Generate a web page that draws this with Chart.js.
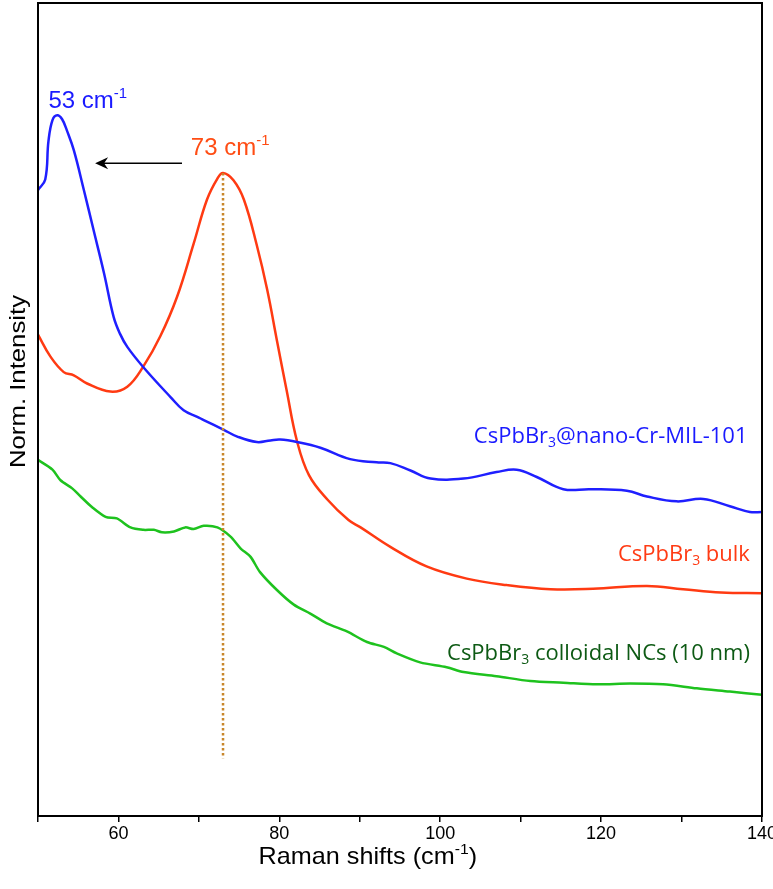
<!DOCTYPE html>
<html>
<head>
<meta charset="utf-8">
<script src="https://cdn.jsdelivr.net/npm/chart.js@4.4.1/dist/chart.umd.min.js"></script>
<style>
  html, body { margin: 0; padding: 0; background: #fff; }
  #wrap { width: 773px; height: 889px; }
</style>
</head>
<body>
<div id="wrap"><canvas id="raman" width="773" height="889"></canvas></div>
<script>
// Raman shift (cm-1) / normalised intensity (arbitrary units, 0-100)
const milShift = [50.0, 50.9, 51.3, 51.8, 52.4, 53.0, 53.6, 54.45, 55.7, 56.9, 58.2, 59.4, 60.2, 61.1, 63.1, 66.5, 68.1, 69.8, 70.6, 73.1, 74.7, 77.2, 78.9, 80.1, 82.2, 85.1, 88.8, 92.1, 93.8, 96.3, 98.8, 102.9, 107.0, 109.5, 112.0, 115.3, 118.6, 123.2, 125.7, 129.4, 132.7, 136.0, 138.5, 140.0];
const milIntensity = [77.0, 78.3, 83.0, 85.6, 86.2, 85.7, 84.3, 81.9, 77.0, 72.1, 66.8, 61.4, 59.3, 57.7, 55.2, 51.5, 49.9, 49.1, 48.7, 47.5, 46.7, 46.0, 46.2, 46.3, 46.0, 45.3, 43.9, 43.5, 43.4, 42.5, 41.5, 41.5, 42.3, 42.6, 41.7, 40.2, 40.2, 40.0, 39.3, 38.7, 39.0, 38.1, 37.4, 37.4];

const bulkShift = [50.0, 51.55, 53.2, 54.45, 56.1, 59.0, 61.1, 63.1, 65.2, 67.3, 69.35, 71.0, 72.3, 73.0, 74.3, 75.6, 77.2, 78.5, 79.7, 80.9, 82.2, 83.7, 86.0, 88.6, 90.1, 93.8, 98.3, 103.3, 108.3, 113.7, 119.0, 125.7, 130.2, 134.9, 140.0];
const bulkIntensity = [59.2, 56.5, 54.6, 54.2, 53.2, 52.2, 52.8, 55.3, 59.0, 63.9, 70.4, 75.8, 78.4, 79.1, 78.2, 75.8, 70.2, 64.7, 58.5, 52.4, 46.1, 41.9, 38.9, 36.4, 35.5, 33.1, 30.7, 29.2, 28.4, 27.9, 27.95, 28.3, 27.9, 27.5, 27.4];

const ncShift = [50.0, 51.8, 52.8, 54.25, 55.3, 56.7, 58.4, 59.8, 61.5, 63.1, 64.4, 65.4, 66.9, 68.3, 69.35, 70.6, 72.3, 73.9, 75.2, 76.4, 77.6, 79.7, 81.8, 83.85, 85.9, 88.4, 90.9, 93.0, 94.6, 97.5, 100.8, 102.9, 107.0, 111.2, 115.3, 119.5, 123.6, 127.7, 131.9, 136.0, 140.0];
const ncIntensity = [43.8, 42.6, 41.3, 40.3, 39.3, 38.0, 36.8, 36.6, 35.5, 35.2, 35.2, 34.9, 35.0, 35.5, 35.3, 35.7, 35.5, 34.4, 32.9, 31.9, 30.0, 27.8, 26.0, 24.9, 23.7, 22.7, 21.4, 20.8, 20.0, 18.9, 18.3, 17.7, 17.2, 16.6, 16.4, 16.2, 16.3, 16.2, 15.7, 15.3, 14.9];

// dotted marker at the bulk peak
const markerShift = 73;
const markerRange = [79.1, 7.1];

const xTickLabels = [60, 80, 100, 120, 140];

// series labels: [text runs, shift at right edge, intensity at baseline]
const seriesLabels = [
  [[['CsPbBr', 0], ['3', -1], ['@nano-Cr-MIL-101', 0]], 138.2, 45.9, '#1a1aff'],
  [[['CsPbBr', 0], ['3', -1], [' bulk', 0]], 138.5, 31.4, '#ff3b14'],
  [[['CsPbBr', 0], ['3', -1], [' colloidal NCs (10 nm)', 0]], 138.5, 19.2, '#0d5a14']
];
// peak annotations: [runs, shift at left edge, intensity at baseline]
const peakLabels = [
  [[['53 cm', 0], ['-1', 1]], 51.3, 87.1, '#1a1aff'],
  [[['73 cm', 0], ['-1', 1]], 69.0, 81.3, '#ff4d14']
];
const arrowFrom = [67.9, 80.3];
const arrowTo = [57.1, 80.3];

const toXY = (xs, ys) => xs.map((x, i) => ({ x: x, y: ys[i] }));

// draws text with sub/superscript runs
function drawRich(ctx, runs, x, y, o) {
  ctx.save();
  ctx.translate(x, y);
  if (o.rotate) ctx.rotate(o.rotate);
  ctx.scale(o.sx || 1, 1);
  const big = o.size + 'px ' + o.family;
  const small = Math.round(o.size * 0.64) + 'px ' + o.family;
  let w = 0;
  runs.forEach(r => { ctx.font = r[1] ? small : big; w += ctx.measureText(r[0]).width; });
  let cx = o.align === 'right' ? -w : (o.align === 'center' ? -w / 2 : 0);
  ctx.fillStyle = o.color;
  ctx.textBaseline = 'alphabetic';
  runs.forEach(r => {
    ctx.font = r[1] ? small : big;
    const dy = r[1] === 1 ? -o.size * 0.42 : (r[1] === -1 ? o.size * 0.2 : 0);
    ctx.fillText(r[0], cx, dy);
    cx += ctx.measureText(r[0]).width;
  });
  ctx.restore();
}

const annotations = {
  id: 'annotations',
  afterDatasetsDraw(chart) {
    const ctx = chart.ctx;
    const xs = chart.scales.x, ys = chart.scales.y;
    const area = chart.chartArea;

    // frame
    ctx.save();
    ctx.strokeStyle = '#000';
    ctx.lineWidth = 2;
    ctx.strokeRect(area.left, area.top, area.right - area.left, area.bottom - area.top);
    ctx.restore();

    seriesLabels.forEach(l => {
      drawRich(ctx, l[0], xs.getPixelForValue(l[1]), ys.getPixelForValue(l[2]),
        { size: 22, family: '"Open Sans", sans-serif', color: l[3], align: 'right' });
    });
    peakLabels.forEach(l => {
      drawRich(ctx, l[0], xs.getPixelForValue(l[1]), ys.getPixelForValue(l[2]),
        { size: 24, family: '"Liberation Sans", Arial, sans-serif', color: l[3], align: 'left' });
    });

    // arrow
    const x1 = xs.getPixelForValue(arrowFrom[0]), y1 = ys.getPixelForValue(arrowFrom[1]);
    const x2 = xs.getPixelForValue(arrowTo[0]), y2 = ys.getPixelForValue(arrowTo[1]);
    ctx.save();
    ctx.strokeStyle = '#000';
    ctx.fillStyle = '#000';
    ctx.lineWidth = 1.5;
    ctx.beginPath();
    ctx.moveTo(x1, y1);
    ctx.lineTo(x2 + 8, y2);
    ctx.stroke();
    ctx.beginPath();
    ctx.moveTo(x2, y2);
    ctx.lineTo(x2 + 13, y2 - 6);
    ctx.lineTo(x2 + 9, y2);
    ctx.lineTo(x2 + 13, y2 + 6);
    ctx.closePath();
    ctx.fill();
    ctx.restore();

    // axis titles
    drawRich(ctx, [['Raman shifts (cm', 0], ['-1', 1], [')', 0]], xs.getPixelForValue(91), area.bottom + 48,
      { size: 24, sx: 1.05, family: '"Liberation Sans", Arial, sans-serif', color: '#000', align: 'center' });
    drawRich(ctx, [['Norm. Intensity', 0]], 25, (area.top + area.bottom) / 2 - 28,
      { size: 22, sx: 1.17, family: '"Liberation Sans", Arial, sans-serif', color: '#000', align: 'center', rotate: -Math.PI / 2 });
  }
};

document.addEventListener('DOMContentLoaded', function() {
  const ctx = document.getElementById('raman').getContext('2d');

  new Chart(ctx, {
    type: 'line',
    data: {
      datasets: [
        {
          label: 'marker',
          data: [{ x: markerShift, y: markerRange[0] }, { x: markerShift, y: markerRange[1] }],
          borderColor: '#c8862a',
          borderWidth: 2.5,
          borderDash: [2.5, 2.5],
          pointRadius: 0,
          order: 0
        },
        {
          label: 'CsPbBr3@nano-Cr-MIL-101',
          data: toXY(milShift, milIntensity),
          borderColor: '#1f1fff',
          borderWidth: 2.5,
          pointRadius: 0,
          tension: 0.4,
          order: 1
        },
        {
          label: 'CsPbBr3 bulk',
          data: toXY(bulkShift, bulkIntensity),
          borderColor: '#ff3a12',
          borderWidth: 2.5,
          pointRadius: 0,
          tension: 0.4,
          order: 1
        },
        {
          label: 'CsPbBr3 colloidal NCs (10 nm)',
          data: toXY(ncShift, ncIntensity),
          borderColor: '#1ec21e',
          borderWidth: 2.5,
          pointRadius: 0,
          tension: 0.3,
          order: 1
        }
      ]
    },
    options: {
      responsive: false,
      animation: false,
      layout: { padding: { left: 38, right: 11, top: 3, bottom: 0 } },
      plugins: {
        legend: { display: false },
        tooltip: { enabled: false }
      },
      scales: {
        x: {
          type: 'linear',
          min: 50,
          max: 140,
          afterFit: function(scale) {
            scale.height = 73;
            scale.paddingRight = 0;
          },
          border: { display: false },
          grid: {
            drawOnChartArea: false,
            drawTicks: true,
            tickLength: 6,
            color: '#000',
            lineWidth: 1.5
          },
          ticks: {
            stepSize: 10,
            padding: 1,
            maxRotation: 0,
            autoSkip: false,
            color: '#000',
            font: { family: '"Liberation Sans", Arial, sans-serif', size: 18 },
            callback: function(v) { return xTickLabels.includes(v) ? String(v) : ''; }
          }
        },
        y: {
          type: 'linear',
          min: 0,
          max: 100,
          display: false
        }
      }
    },
    plugins: [annotations]
  });
});
</script>
</body>
</html>
